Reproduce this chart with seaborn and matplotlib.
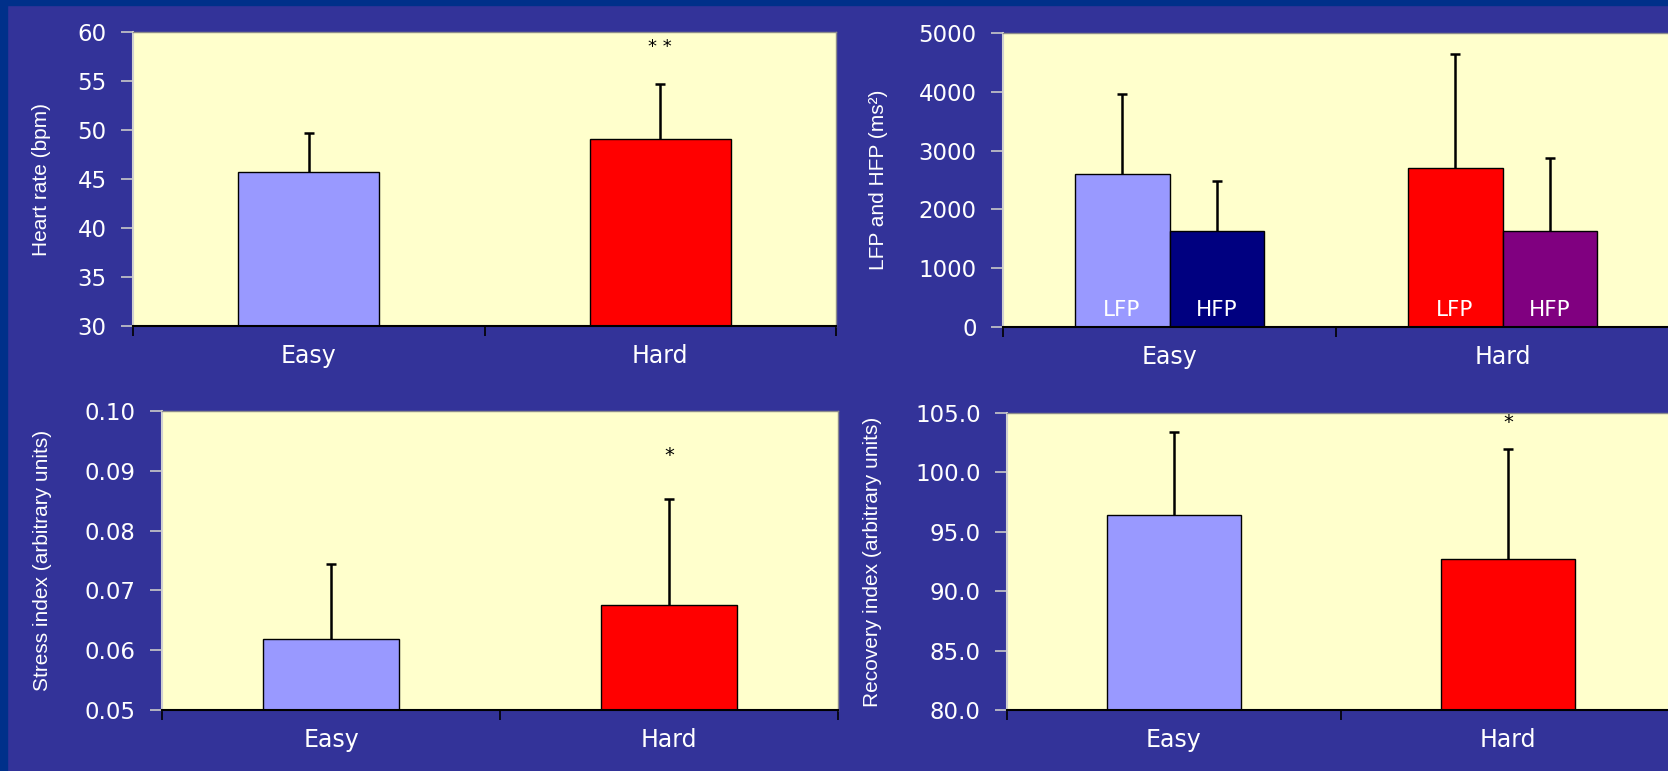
import matplotlib
matplotlib.use("Agg")
import numpy as np
import pandas as pd
import matplotlib.pyplot as plt
import seaborn as sns
from matplotlib.patches import Rectangle

# data
conditions = ["Easy", "Hard"]
bands = ["LFP", "HFP"]

heart_rate = [45.7, 49.1]
heart_rate_sd = [4.0, 5.6]

lfp = [2600, 2710]
lfp_sd = [1360, 1930]
hfp = [1640, 1640]
hfp_sd = [850, 1230]

stress = [0.0618, 0.0675]
stress_sd = [0.0126, 0.0178]

recovery = [96.4, 92.7]
recovery_sd = [7.0, 9.3]

easy_color = "#9999FF"
hard_color = "#FF0000"
hfp_colors = ["#000080", "#800080"]
bg_color = "#333399"
panel_color = "#FFFFCC"

sns.set_style("white")
plt.rcParams["font.family"] = ["DejaVu Sans"]

W, H = 1668, 771
fig = plt.figure(figsize=(W / 100, H / 100), dpi=100)
fig.patch.set_facecolor(bg_color)


def add_axes(left, top, right, bottom):
    return fig.add_axes([left / W, 1 - bottom / H, (right - left) / W, (bottom - top) / H])


def style_axes(ax, ylim, yticks, fmt, ylabel, label_dist):
    ax.set_facecolor(panel_color)
    ax.set_xlim(-0.5, 1.5)
    ax.set_ylim(*ylim)
    ax.set_yticks(yticks)
    ax.set_yticklabels([fmt.format(t) for t in yticks])
    ax.set_xticks([-0.5, 0.5, 1.5])
    ax.set_xticklabels(["", "", ""])
    ax.set_xticks([0, 1], minor=True)
    ax.set_xticklabels(conditions, minor=True)
    ax.set_xlabel("")
    ax.tick_params(axis="y", direction="out", length=9, width=1.2, color="#c8c8c8",
                   labelcolor="white", labelsize=16.5, pad=10, left=True)
    ax.tick_params(axis="x", which="major", direction="out", length=7, width=1.2,
                   color="black", bottom=True)
    ax.tick_params(axis="x", which="minor", length=0, labelcolor="white",
                   labelsize=17, pad=13)
    for side in ["top", "right"]:
        ax.spines[side].set_visible(True)
        ax.spines[side].set_color("#8c8c8c")
        ax.spines[side].set_linewidth(1)
    ax.spines["left"].set_color("#d0d0d0")
    ax.spines["left"].set_linewidth(1.5)
    ax.spines["bottom"].set_color("black")
    ax.spines["bottom"].set_linewidth(1.5)
    ax.set_ylabel(ylabel, color="white", fontsize=15, family="Liberation Sans", va="center")
    bbox = ax.get_position()
    ax.yaxis.set_label_coords(-label_dist / (bbox.width * W), 0.5)


def draw_errors(ax, bars, errs):
    for bar, err in zip(bars, errs):
        x = bar.get_x() + bar.get_width() / 2
        top = bar.get_height()
        ax.vlines(x, top, top + err, color="black", linewidth=1.8, zorder=4)
        ax.plot([x], [top + err], marker="_", ms=7, mew=1.8, color="black", zorder=4)


def simple_panel(ax, values, errs):
    df = pd.DataFrame({"condition": conditions, "value": values})
    sns.barplot(data=df, x="condition", y="value", hue="condition",
                palette=[easy_color, hard_color], saturation=1, width=0.4,
                edgecolor="black", linewidth=1, errorbar=None, legend=False, ax=ax)
    draw_errors(ax, list(ax.patches), errs)


# top left: heart rate
ax1 = add_axes(133, 32, 836, 326)
simple_panel(ax1, heart_rate, heart_rate_sd)
style_axes(ax1, (30, 60), [30, 35, 40, 45, 50, 55, 60], "{:.0f}", "Heart rate (bpm)", 91)
ax1.text(1, 58.5, "* *", ha="center", va="center", fontsize=13, color="black")

# top right: LFP / HFP power
ax2 = add_axes(1003, 33, 1669, 327)
power_df = pd.DataFrame({
    "condition": conditions * 2,
    "band": [bands[0]] * 2 + [bands[1]] * 2,
    "value": lfp + hfp,
})
sns.barplot(data=power_df, x="condition", y="value", hue="band", hue_order=bands,
            saturation=1, width=0.57, edgecolor="black", linewidth=1, errorbar=None,
            legend=False, ax=ax2)
band_colors = [[easy_color, hard_color], hfp_colors]
band_errs = [lfp_sd, hfp_sd]
for container, colors, errs, band in zip(ax2.containers, band_colors, band_errs, bands):
    for bar, c in zip(container, colors):
        bar.set_facecolor(c)
        ax2.text(bar.get_x() + bar.get_width() / 2, 290, band, ha="center", va="center",
                 color="white", fontsize=15.5)
    draw_errors(ax2, list(container), errs)
style_axes(ax2, (0, 5000), [0, 1000, 2000, 3000, 4000, 5000], "{:.0f}",
           "LFP and HFP (ms²)", 125)

# bottom left: stress index
ax3 = add_axes(162, 411, 838, 710)
simple_panel(ax3, stress, stress_sd)
style_axes(ax3, (0.05, 0.10), [0.05, 0.06, 0.07, 0.08, 0.09, 0.10], "{:.2f}",
           "Stress index (arbitrary units)", 119)
ax3.text(1, 0.0925, "*", ha="center", va="center", fontsize=14, color="black")

# bottom right: recovery index
ax4 = add_axes(1007, 413, 1675, 710)
simple_panel(ax4, recovery, recovery_sd)
style_axes(ax4, (80, 105), [80, 85, 90, 95, 100, 105], "{:.1f}",
           "Recovery index (arbitrary units)", 134)
ax4.text(1, 104.2, "*", ha="center", va="center", fontsize=14, color="black")

# darker slide border strips
fig.add_artist(Rectangle((0, 1 - 5 / H), 1, 5 / H, transform=fig.transFigure,
                         color="#00308A", zorder=10))
fig.add_artist(Rectangle((0, 0), 7 / W, 1, transform=fig.transFigure,
                         color="#00308A", zorder=10))

fig.savefig("out.png", dpi=100, facecolor=fig.get_facecolor())
